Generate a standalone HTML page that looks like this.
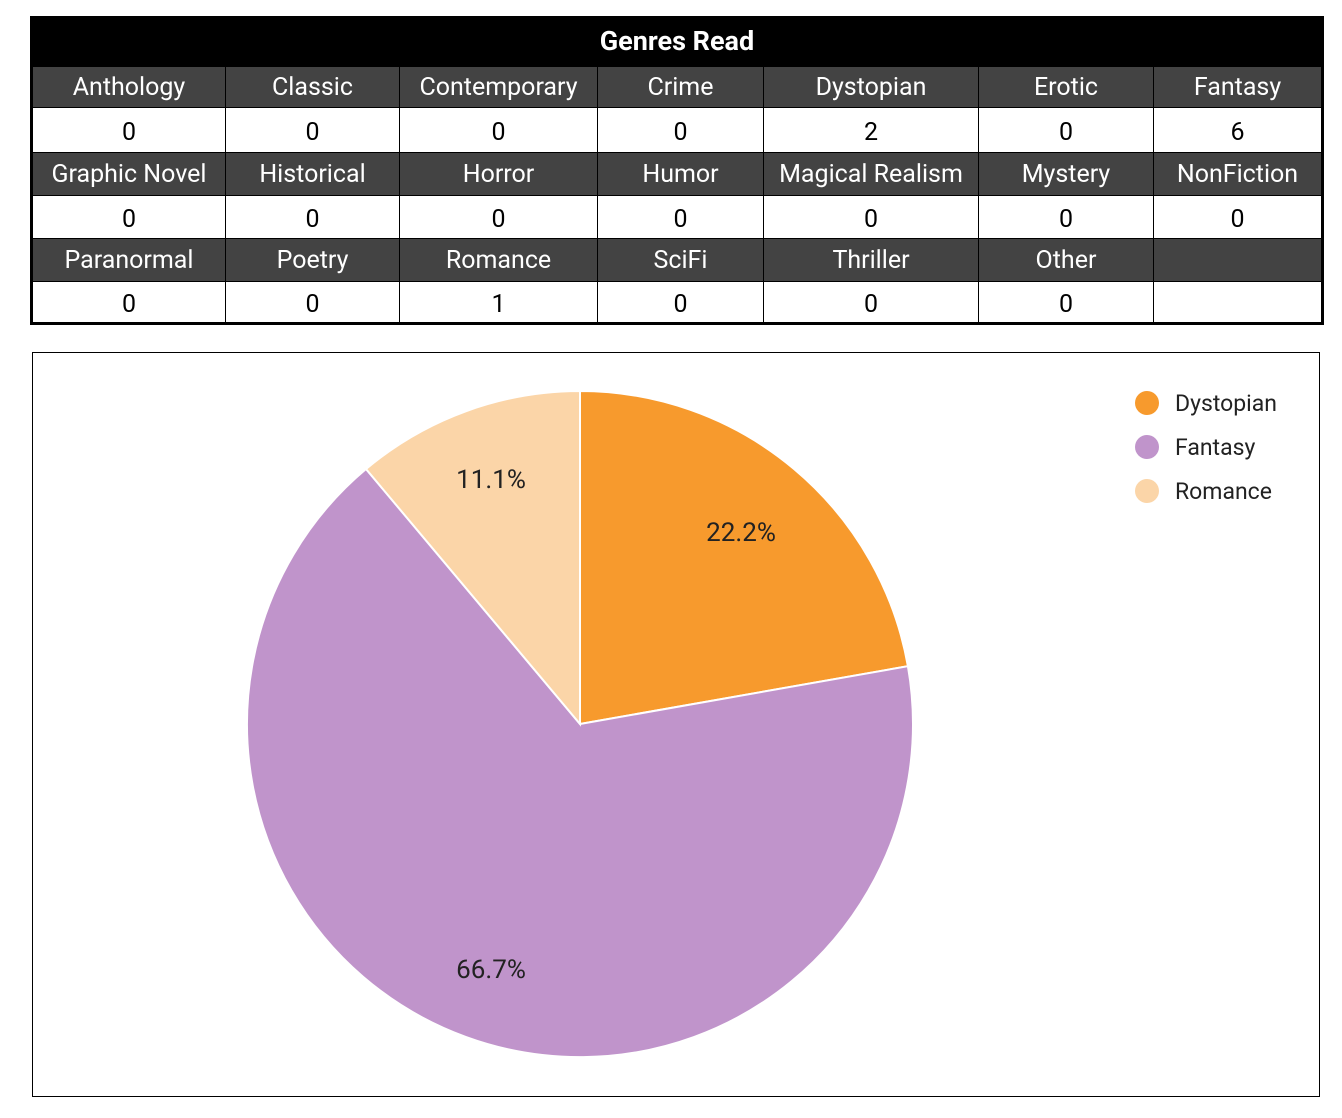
<!DOCTYPE html>
<html><head><style>
body{margin:0;width:1342px;height:1118px;background:#fff;position:relative;font-family:"Roboto","Liberation Sans",sans-serif;overflow:hidden}
.t{position:absolute;left:30px;top:16px;width:1294px;height:309px;background:#000}
.c{position:absolute;display:flex;align-items:center;justify-content:center;font-size:25px;box-sizing:border-box}
.h{background:#434343;color:#fff}
.v{background:#fff;color:#000;padding-top:4px}
</style></head><body>
<div class="t"></div>
<div class="c" style="left:33px;top:16px;width:1288px;height:50px;color:#fff;font-weight:bold;font-size:27px;background:#000">Genres Read</div>
<div id="g"></div>
<script>
var xs=[33,225,399,597,763,978,1153,1321];
var rows=[[66,107,["Anthology","Classic","Contemporary","Crime","Dystopian","Erotic","Fantasy"]],
[107,152,["0","0","0","0","2","0","6"]],
[152,195,["Graphic Novel","Historical","Horror","Humor","Magical Realism","Mystery","NonFiction"]],
[195,238,["0","0","0","0","0","0","0"]],
[238,281,["Paranormal","Poetry","Romance","SciFi","Thriller","Other",""]],
[281,322,["0","0","1","0","0","0",""]]];
var h="";
rows.forEach(function(r,i){for(var j=0;j<7;j++){
var l=xs[j]+(j?1:0),w=xs[j+1]-l;
h+='<div class="c '+(i%2?'v':'h')+'" style="left:'+l+'px;top:'+(r[0]+1)+'px;width:'+w+'px;height:'+(r[1]-r[0]-1)+'px">'+r[2][j]+'</div>';}});
document.getElementById('g').innerHTML=h;
</script>
<div style="position:absolute;left:32px;top:352px;width:1288px;height:745px;border:1px solid #000;box-sizing:border-box"></div>
<svg style="position:absolute;left:0;top:0" width="1342" height="1118">
<path d="M580,724 L580,391 A333,333 0 0 1 907.9,666.2 Z" fill="#f79a2d" stroke="#fff" stroke-width="2"/>
<path d="M580,724 L907.9,666.2 A333,333 0 1 1 366,469 Z" fill="#c094cb" stroke="#fff" stroke-width="2"/>
<path d="M580,724 L366,469 A333,333 0 0 1 580,391 Z" fill="#fbd5a8" stroke="#fff" stroke-width="2"/>
<g font-family="Roboto,Liberation Sans,sans-serif" font-size="26" fill="#222" text-anchor="middle">
<text x="741" y="541">22.2%</text>
<text x="491" y="978">66.7%</text>
<text x="491" y="488">11.1%</text>
</g>
<circle cx="1147" cy="403" r="12" fill="#f79a2d"/>
<circle cx="1147" cy="447" r="12" fill="#c094cb"/>
<circle cx="1147" cy="491" r="12" fill="#fbd5a8"/>
<g font-family="Roboto,Liberation Sans,sans-serif" font-size="23" fill="#222">
<text x="1175" y="411">Dystopian</text>
<text x="1175" y="455">Fantasy</text>
<text x="1175" y="499">Romance</text>
</g>
</svg>
</body></html>
